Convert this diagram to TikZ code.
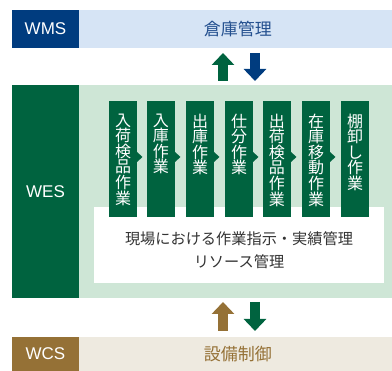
\documentclass[tikz,border=0pt]{standalone}
\usepackage{fontspec}
\setmainfont{Liberation Sans}
\newfontfamily\jp{Noto Sans CJK JP}
\usetikzlibrary{arrows.meta}
\definecolor{navy}{HTML}{003C7F}
\definecolor{lblue}{HTML}{D6E4F5}
\definecolor{tblue}{HTML}{24508F}
\definecolor{dgreen}{HTML}{00633F}
\definecolor{lgreen}{HTML}{CEE6D6}
\definecolor{brown}{HTML}{957136}
\definecolor{beige}{HTML}{EEEAE0}
\definecolor{dgray}{HTML}{333333}
\tikzset{
  box/.style={anchor=north west, inner sep=0pt, outer sep=0pt},
  tag/.style={box, minimum width=67pt, text=white, font=\fontsize{17}{20}\selectfont},
  stepbox/.style={box, fill=dgreen, minimum width=28pt, minimum height=116pt},
  steptext/.style={anchor=north, inner sep=0pt, text=white, align=center, font=\jp\fontsize{16}{15.6}\selectfont},
  bigarrow/.style={line width=9.5pt, -{Triangle[width=22pt,length=12pt]}},
  chev/.style={fill=dgreen}
}
\begin{document}
\begin{tikzpicture}[x=1pt,y=-1pt]
\useasboundingbox (0,0) rectangle (392,371);
% WMS band
\node[box, fill=lblue, minimum width=313pt, minimum height=38pt] (wmsband) at (79,10) {};
\node[tag, fill=navy, minimum height=38pt] (wms) at (12,10) {WMS};
\node[text=tblue, font=\jp\fontsize{17}{20}\selectfont] (wmstxt) at (238,29) {倉庫管理};
% arrows top
\coordinate (a1s) at (223,81); \coordinate (a1e) at (223,53);
\coordinate (a2s) at (255,53); \coordinate (a2e) at (255,81);
\draw[bigarrow, dgreen] (a1s) -- (a1e);
\draw[bigarrow, navy] (a2s) -- (a2e);
% WES band
\node[box, fill=lgreen, minimum width=313pt, minimum height=213pt] (wesband) at (79,85) {};
\node[tag, fill=dgreen, minimum height=213pt] (wes) at (12,85) {WES};
% white box
\node[box, fill=white, minimum width=290pt, minimum height=76pt] (wbox) at (94,207) {};
\node[align=center, text=dgray, font=\jp\fontsize{15.2}{23}\selectfont] (wtxt) at (239,250.5) {現場における作業指示・実績管理\\リソース管理};
% steps
\foreach \i/\x/\t in {1/109/{入\\荷\\検\\品\\作\\業},
                      2/147/{入\\庫\\作\\業},
                      3/186/{出\\庫\\作\\業},
                      4/225/{仕\\分\\作\\業},
                      5/263/{出\\荷\\検\\品\\作\\業},
                      6/302/{在\\庫\\移\\動\\作\\業},
                      7/341/{棚\\卸\\し\\作\\業}} {
  \node[stepbox] (s\i) at (\x,101) {};
  \node[steptext] (s\i t) at ([yshift=-12.5pt]s\i.north) {\t};
}
\foreach \i in {1,...,6} {
  \fill[chev] ([yshift=-51pt]s\i.north east) -- ([yshift=-56pt,xshift=5.5pt]s\i.north east) -- ([yshift=-61pt]s\i.north east) -- cycle;
}
% arrows bottom
\coordinate (b1s) at (223,331); \coordinate (b1e) at (223,302);
\coordinate (b2s) at (255,302); \coordinate (b2e) at (255,331);
\draw[bigarrow, brown] (b1s) -- (b1e);
\draw[bigarrow, dgreen] (b2s) -- (b2e);
% WCS band
\node[box, fill=beige, minimum width=313pt, minimum height=34pt] (wcsband) at (79,337) {};
\node[tag, fill=brown, minimum height=34pt] (wcs) at (12,337) {WCS};
\node[text=brown, font=\jp\fontsize{17}{20}\selectfont] (wcstxt) at (238,354) {設備制御};
\end{tikzpicture}
\end{document}
